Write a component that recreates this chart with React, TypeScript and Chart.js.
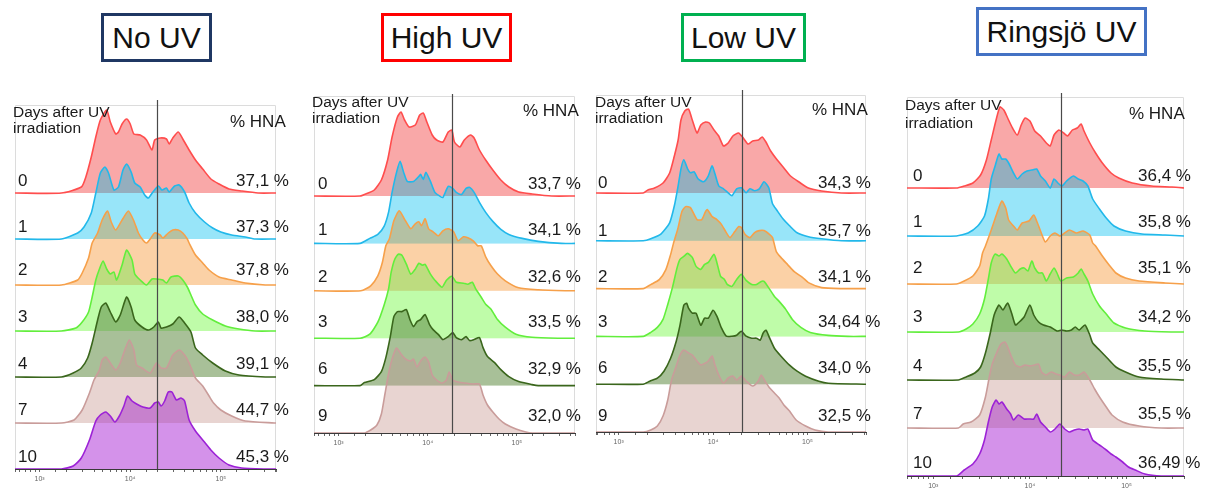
import React, { useEffect, useRef } from 'react';
import { Chart, registerables } from 'chart.js';

// Per-dataset compositing; registered ahead of the filler so the mode is set before fills are painted.
const blendPlugin = {
  id: 'datasetBlend',
  beforeDatasetDraw(chart: any, args: any) {
    const ds = chart.data.datasets[args.index];
    chart.ctx.save();
    chart.ctx.globalCompositeOperation = ds.blend || 'source-over';
  },
  afterDatasetDraw(chart: any) {
    chart.ctx.restore();
  },
};
Chart.register(blendPlugin);
Chart.register(...registerables);

// Each histogram is a list of [log10 fluorescence, relative event count].
type Curve = [number, number][];

// ---------- No UV ----------
const NOUV_D0: Curve = [[3.24,0],[3.46,6],[3.51,16],[3.57,36],[3.62,56],[3.67,73],[3.74,83],[3.78,71],[3.84,59],[3.87,61],[3.91,69],[3.96,74],[4.00,69],[4.04,59],[4.11,58],[4.18,53],[4.24,43],[4.27,53],[4.33,55],[4.40,54],[4.43,49],[4.47,55],[4.53,61],[4.58,54],[4.65,43],[4.72,33],[4.80,24],[4.89,14],[4.98,9],[5.09,4],[5.23,2],[5.41,0]];
const NOUV_D1: Curve = [[3.24,0],[3.42,6],[3.49,12],[3.57,26],[3.62,46],[3.67,66],[3.72,72],[3.76,66],[3.82,49],[3.87,52],[3.92,69],[3.96,75],[4.01,67],[4.05,56],[4.11,52],[4.16,44],[4.20,41],[4.25,47],[4.31,53],[4.35,49],[4.40,51],[4.43,47],[4.49,53],[4.54,54],[4.60,47],[4.65,36],[4.72,26],[4.82,17],[4.91,11],[5.00,7],[5.12,4],[5.27,2],[5.38,0]];
const NOUV_D2: Curve = [[3.24,0],[3.42,5],[3.47,12],[3.54,27],[3.58,42],[3.64,52],[3.69,65],[3.75,74],[3.79,63],[3.84,55],[3.91,65],[3.98,74],[4.04,64],[4.09,52],[4.14,45],[4.18,42],[4.22,46],[4.27,52],[4.33,50],[4.36,47],[4.42,52],[4.47,55],[4.53,55],[4.58,52],[4.63,46],[4.65,42],[4.72,30],[4.80,22],[4.87,15],[4.98,8],[5.12,5],[5.27,2],[5.49,0]];
const NOUV_D3: Curve = [[3.24,0],[3.40,3],[3.47,9],[3.54,19],[3.58,34],[3.62,51],[3.66,62],[3.70,70],[3.74,62],[3.78,57],[3.82,59],[3.85,51],[3.91,66],[3.96,81],[4.02,71],[4.05,57],[4.11,51],[4.18,46],[4.24,52],[4.29,52],[4.36,51],[4.40,48],[4.45,54],[4.53,55],[4.58,51],[4.63,44],[4.67,36],[4.72,26],[4.80,17],[4.91,11],[5.05,5],[5.20,2],[5.38,0]];
const NOUV_D4: Curve = [[3.24,0],[3.37,4],[3.46,9],[3.53,19],[3.58,34],[3.64,57],[3.68,70],[3.73,74],[3.78,65],[3.84,55],[3.89,62],[3.96,80],[4.01,70],[4.05,57],[4.13,50],[4.20,47],[4.26,50],[4.31,55],[4.34,49],[4.40,50],[4.47,53],[4.54,60],[4.60,54],[4.67,45],[4.72,29],[4.80,22],[4.91,14],[5.05,6],[5.20,2],[5.49,0]];
const NOUV_D7: Curve = [[3.24,0],[3.38,3],[3.47,13],[3.55,30],[3.60,43],[3.66,53],[3.69,63],[3.73,66],[3.78,60],[3.84,53],[3.89,60],[3.94,73],[3.99,83],[4.04,73],[4.07,58],[4.13,55],[4.22,50],[4.29,60],[4.34,55],[4.40,55],[4.47,68],[4.54,73],[4.60,68],[4.65,60],[4.72,45],[4.80,37],[4.87,27],[4.92,20],[5.00,13],[5.12,7],[5.27,2],[5.59,0]];
const NOUV_D10: Curve = [[3.24,0],[3.37,3],[3.46,11],[3.55,29],[3.62,48],[3.67,54],[3.73,57],[3.78,53],[3.83,47],[3.88,53],[3.93,63],[3.97,73],[4.02,68],[4.07,65],[4.14,62],[4.22,61],[4.27,66],[4.31,67],[4.34,63],[4.38,68],[4.42,77],[4.46,77],[4.51,69],[4.56,71],[4.60,68],[4.65,49],[4.72,38],[4.80,29],[4.89,19],[4.98,11],[5.09,4],[5.23,1],[5.49,0]];

// ---------- High UV ----------
const HIGH_D0: Curve = [[3.24,0],[3.33,3],[3.40,6],[3.48,16],[3.55,36],[3.60,59],[3.66,79],[3.70,84],[3.74,76],[3.79,69],[3.86,71],[3.91,81],[3.95,83],[3.99,74],[4.05,61],[4.10,56],[4.17,54],[4.23,64],[4.27,66],[4.30,54],[4.36,49],[4.41,56],[4.48,61],[4.52,58],[4.58,46],[4.65,36],[4.73,26],[4.82,16],[4.91,9],[5.02,4],[5.17,2],[5.39,0]];
const HIGH_D1: Curve = [[3.24,0],[3.35,5],[3.44,9],[3.51,17],[3.56,31],[3.60,51],[3.65,71],[3.69,82],[3.73,71],[3.77,62],[3.84,62],[3.90,67],[3.92,69],[3.95,64],[3.98,71],[4.03,62],[4.08,51],[4.14,47],[4.17,46],[4.23,57],[4.28,55],[4.32,51],[4.38,49],[4.43,55],[4.47,56],[4.52,51],[4.58,41],[4.65,31],[4.73,22],[4.82,14],[4.91,9],[5.06,5],[5.24,2],[5.50,0]];
const HIGH_D2: Curve = [[3.25,0],[3.36,5],[3.44,15],[3.49,28],[3.53,45],[3.57,52],[3.62,70],[3.68,80],[3.75,70],[3.81,62],[3.86,67],[3.90,69],[3.93,65],[3.97,72],[4.01,62],[4.06,59],[4.12,55],[4.17,60],[4.23,62],[4.29,59],[4.34,50],[4.40,54],[4.45,53],[4.51,50],[4.56,45],[4.60,45],[4.65,34],[4.71,25],[4.78,17],[4.87,10],[5.02,3],[5.24,1],[5.54,0]];
const HIGH_D3: Curve = [[3.24,0],[3.35,4],[3.44,16],[3.51,33],[3.56,49],[3.59,66],[3.63,79],[3.67,84],[3.71,83],[3.76,74],[3.81,64],[3.86,69],[3.90,75],[3.94,73],[3.97,74],[4.03,64],[4.08,58],[4.16,51],[4.21,58],[4.27,62],[4.32,56],[4.40,55],[4.45,54],[4.50,56],[4.54,49],[4.60,41],[4.65,34],[4.71,29],[4.78,19],[4.87,11],[4.99,4],[5.17,1],[5.46,0]];
const HIGH_D6: Curve = [[3.24,0],[3.29,3],[3.40,6],[3.48,14],[3.53,28],[3.58,49],[3.62,69],[3.66,74],[3.71,74],[3.76,76],[3.80,66],[3.84,59],[3.88,64],[3.92,66],[3.97,71],[4.02,61],[4.06,56],[4.12,51],[4.17,46],[4.23,49],[4.28,53],[4.32,48],[4.38,46],[4.43,49],[4.47,45],[4.52,46],[4.58,48],[4.62,38],[4.67,29],[4.75,23],[4.82,16],[4.91,9],[5.02,4],[5.17,1],[5.24,0]];
const HIGH_D9: Curve = [[3.29,0],[3.36,3],[3.43,8],[3.48,19],[3.52,39],[3.56,59],[3.60,74],[3.65,85],[3.70,79],[3.75,74],[3.81,72],[3.84,74],[3.88,66],[3.92,72],[3.97,76],[4.01,71],[4.05,58],[4.10,53],[4.16,50],[4.21,53],[4.24,61],[4.28,53],[4.34,51],[4.41,50],[4.51,49],[4.58,49],[4.62,38],[4.67,28],[4.73,21],[4.80,14],[4.87,9],[4.99,4],[5.10,1],[5.17,0]];

// ---------- Low UV ----------
const LOW_D0: Curve = [[3.26,0],[3.31,3],[3.38,5],[3.47,10],[3.54,20],[3.59,37],[3.63,53],[3.66,73],[3.70,82],[3.74,84],[3.78,73],[3.83,60],[3.87,68],[3.92,71],[3.96,70],[4.01,63],[4.06,57],[4.11,47],[4.16,50],[4.21,57],[4.27,60],[4.32,55],[4.37,49],[4.42,52],[4.48,53],[4.52,56],[4.56,51],[4.61,42],[4.68,33],[4.75,25],[4.82,17],[4.91,11],[5.01,5],[5.15,2],[5.36,0]];
const LOW_D1: Curve = [[3.26,0],[3.34,2],[3.45,7],[3.54,18],[3.59,35],[3.63,55],[3.66,72],[3.69,81],[3.73,72],[3.76,68],[3.80,69],[3.84,62],[3.90,59],[3.95,65],[3.99,75],[4.02,67],[4.06,55],[4.11,52],[4.16,48],[4.20,45],[4.25,52],[4.30,53],[4.35,48],[4.39,52],[4.44,50],[4.49,52],[4.54,59],[4.59,53],[4.63,37],[4.68,30],[4.74,22],[4.81,15],[4.89,8],[5.01,4],[5.15,2],[5.36,0]];
const LOW_D2: Curve = [[3.26,0],[3.34,4],[3.43,9],[3.50,19],[3.55,34],[3.58,45],[3.63,61],[3.67,77],[3.71,82],[3.76,81],[3.83,69],[3.88,69],[3.92,77],[3.94,79],[3.99,72],[4.04,69],[4.09,64],[4.14,56],[4.18,51],[4.23,57],[4.27,62],[4.30,61],[4.34,54],[4.39,51],[4.44,56],[4.49,58],[4.54,58],[4.60,54],[4.63,51],[4.67,37],[4.72,31],[4.79,24],[4.86,17],[4.95,11],[5.01,6],[5.15,1],[5.36,0]];
const LOW_D3: Curve = [[3.26,0],[3.34,4],[3.41,9],[3.47,17],[3.52,32],[3.57,49],[3.62,69],[3.65,77],[3.69,80],[3.73,83],[3.78,79],[3.82,70],[3.87,67],[3.91,72],[3.95,74],[4.01,82],[4.04,74],[4.08,60],[4.12,57],[4.15,52],[4.20,50],[4.25,57],[4.30,62],[4.35,56],[4.41,52],[4.46,52],[4.51,55],[4.54,55],[4.60,47],[4.65,40],[4.70,35],[4.77,27],[4.84,17],[4.93,9],[5.03,4],[5.22,1],[5.43,0]];
const LOW_D6: Curve = [[3.26,0],[3.33,3],[3.41,6],[3.48,13],[3.55,26],[3.61,43],[3.65,59],[3.69,79],[3.72,81],[3.74,76],[3.78,71],[3.82,71],[3.87,59],[3.91,66],[3.95,66],[4.00,74],[4.04,68],[4.09,56],[4.14,48],[4.20,48],[4.25,49],[4.30,53],[4.35,48],[4.41,46],[4.46,46],[4.50,44],[4.53,51],[4.56,54],[4.60,46],[4.65,36],[4.72,28],[4.81,19],[4.89,13],[4.98,8],[5.12,3],[5.22,1],[5.61,0]];
const LOW_D9: Curve = [[3.26,0],[3.34,2],[3.41,6],[3.47,16],[3.52,32],[3.56,52],[3.61,66],[3.65,77],[3.69,82],[3.74,79],[3.78,77],[3.82,72],[3.87,67],[3.92,69],[3.95,71],[3.99,76],[4.02,67],[4.06,57],[4.11,49],[4.16,54],[4.21,56],[4.25,52],[4.30,56],[4.35,51],[4.42,46],[4.48,51],[4.51,57],[4.55,51],[4.60,44],[4.65,39],[4.70,34],[4.75,27],[4.81,21],[4.88,12],[4.98,6],[5.08,2],[5.22,0]];

// ---------- Ringsjö UV ----------
const RING_D0: Curve = [[3.24,0],[3.32,2],[3.41,5],[3.49,13],[3.55,28],[3.60,48],[3.65,68],[3.69,81],[3.73,78],[3.77,70],[3.82,60],[3.87,53],[3.91,63],[3.95,70],[4.00,67],[4.05,57],[4.11,52],[4.17,45],[4.21,42],[4.25,53],[4.30,58],[4.35,55],[4.39,52],[4.44,58],[4.49,60],[4.53,64],[4.56,57],[4.62,45],[4.68,35],[4.75,25],[4.84,15],[4.92,10],[5.06,5],[5.26,2],[5.47,1],[5.60,0]];
const RING_D1: Curve = [[3.24,0],[3.36,3],[3.46,10],[3.53,20],[3.57,37],[3.60,57],[3.64,70],[3.68,82],[3.71,77],[3.75,77],[3.78,73],[3.83,63],[3.87,57],[3.92,62],[3.97,65],[4.02,66],[4.07,67],[4.11,60],[4.16,55],[4.21,48],[4.25,57],[4.29,53],[4.33,50],[4.38,55],[4.45,60],[4.50,57],[4.55,55],[4.60,50],[4.65,37],[4.72,27],[4.79,18],[4.87,10],[4.99,5],[5.16,2],[5.40,1],[5.60,0]];
const RING_D2: Curve = [[3.24,0],[3.32,3],[3.41,8],[3.48,18],[3.51,31],[3.54,38],[3.60,54],[3.66,71],[3.71,83],[3.75,76],[3.78,64],[3.83,58],[3.87,54],[3.92,61],[3.99,63],[4.04,69],[4.07,63],[4.11,53],[4.16,42],[4.21,48],[4.26,51],[4.31,48],[4.36,51],[4.41,54],[4.48,51],[4.55,53],[4.62,49],[4.65,41],[4.68,38],[4.75,28],[4.82,19],[4.89,11],[4.99,6],[5.13,3],[5.40,1],[5.60,0]];
const RING_D3: Curve = [[3.26,0],[3.34,3],[3.41,8],[3.48,18],[3.53,33],[3.57,53],[3.60,69],[3.64,78],[3.68,76],[3.71,78],[3.76,73],[3.80,66],[3.85,59],[3.90,63],[3.94,64],[3.98,61],[4.02,71],[4.05,64],[4.09,59],[4.13,59],[4.17,51],[4.21,58],[4.25,64],[4.28,59],[4.32,51],[4.38,54],[4.45,55],[4.50,59],[4.53,63],[4.56,58],[4.60,51],[4.65,38],[4.72,26],[4.79,18],[4.87,9],[4.99,4],[5.19,1],[5.47,0]];
const RING_D4: Curve = [[3.26,0],[3.34,3],[3.43,7],[3.49,13],[3.54,27],[3.59,47],[3.63,65],[3.68,75],[3.72,70],[3.77,77],[3.81,67],[3.85,55],[3.89,58],[3.94,63],[4.00,75],[4.04,65],[4.09,58],[4.14,55],[4.21,53],[4.28,49],[4.33,50],[4.38,49],[4.43,50],[4.47,53],[4.51,50],[4.57,55],[4.62,45],[4.65,37],[4.72,30],[4.80,22],[4.89,13],[4.99,8],[5.13,3],[5.36,1],[5.60,0]];
const RING_D7: Curve = [[3.26,0],[3.31,4],[3.39,6],[3.48,13],[3.54,31],[3.58,51],[3.61,64],[3.66,76],[3.70,84],[3.74,86],[3.77,81],[3.81,71],[3.85,63],[3.90,61],[3.95,63],[4.00,62],[4.05,63],[4.09,64],[4.12,56],[4.17,53],[4.22,56],[4.27,54],[4.31,53],[4.36,51],[4.41,56],[4.46,53],[4.51,53],[4.56,56],[4.62,48],[4.67,39],[4.72,31],[4.79,21],[4.85,13],[4.96,6],[5.13,2],[5.36,0]];
const RING_D10: Curve = [[3.24,0],[3.32,6],[3.41,12],[3.48,22],[3.53,36],[3.57,54],[3.61,69],[3.65,76],[3.68,72],[3.71,74],[3.76,67],[3.80,62],[3.83,56],[3.88,61],[3.94,57],[3.99,57],[4.04,57],[4.07,62],[4.11,54],[4.16,49],[4.21,44],[4.26,47],[4.31,52],[4.36,47],[4.41,44],[4.46,46],[4.51,47],[4.56,46],[4.60,47],[4.65,36],[4.72,31],[4.79,26],[4.84,22],[4.89,19],[4.96,14],[5.02,9],[5.09,6],[5.19,2],[5.36,0]];

// Row labels (days after irradiation) and HNA percentages
const NOUV_DAYS = ['0', '1', '2', '3', '4', '7', '10'];
const NOUV_HNA = ['37,1 %', '37,3 %', '37,8 %', '38,0 %', '39,1 %', '44,7 %', '45,3 %'];
const HIGH_DAYS = ['0', '1', '2', '3', '6', '9'];
const HIGH_HNA = ['33,7 %', '34,1 %', '32,6 %', '33,5 %', '32,9 %', '32,0 %'];
const LOW_DAYS = ['0', '1', '2', '3', '6', '9'];
const LOW_HNA = ['34,3 %', '35,7 %', '34,1 %', '34,64 %', '34,0 %', '32,5 %'];
const RING_DAYS = ['0', '1', '2', '3', '4', '7', '10'];
const RING_HNA = ['36,4 %', '35,8 %', '35,1 %', '34,2 %', '35,5 %', '35,5 %', '36,49 %'];

// HNA gate position (fluorescence units)
const GATES = [19500, 18700, 20200, 20800];

// line colour and fill colour (RGB) for each day style
const PALETTE: { line: string; fill: [number, number, number] }[] = [
  { line: '#ff4d4d', fill: [249, 168, 168] },
  { line: '#22b8ea', fill: [152, 229, 250] },
  { line: '#f6a04a', fill: [251, 209, 167] },
  { line: '#62ee3c', fill: [191, 252, 169] },
  { line: '#3a661c', fill: [168, 193, 152] },
  { line: '#c99c9a', fill: [232, 212, 210] },
  { line: '#9c22d6', fill: [213, 147, 234] },
];
// share of the top fill that is laid on plainly over the multiplied overlap
const PLAIN_SHARE = 0.3;

const FONT = '"Liberation Sans", Arial, Helvetica, sans-serif';
const TOP_PAD = 10;
const AXIS_H = 20;
const SUP: Record<number, string> = { 2: '²', 3: '³', 4: '⁴', 5: '⁵', 6: '⁶' };

interface Panel {
  title: string;
  titleColor: string;
  box: { left: number; top: number; width: number; height: number };
  curves: Curve[];
  colors: number[];
  days: string[];
  hna: string[];
  gate: number;
  frame: { left: number; right: number; top: number; axis: number };
  logMin: number;
  logMax: number;
  overhang: number;
  rowStep: number;
  labelY: number[];
  dayX: number;
  pctX: number;
  headX: number;
  headY: [number, number];
  hnaX: number;
  hnaY: number;
}

const PANELS: Panel[] = [
  {
    title: 'No UV', titleColor: '#1f3763',
    box: { left: 101, top: 13, width: 111, height: 49 },
    curves: [NOUV_D0, NOUV_D1, NOUV_D2, NOUV_D3, NOUV_D4, NOUV_D7, NOUV_D10],
    colors: [0, 1, 2, 3, 4, 5, 6], days: NOUV_DAYS, hna: NOUV_HNA, gate: GATES[0],
    frame: { left: 13, right: 278, top: 105, axis: 469 }, logMin: 2.728, logMax: 5.609,
    overhang: 5, rowStep: 46,
    labelY: [180, 226.7, 269.3, 316, 363.3, 409.3, 456], dayX: 18, pctX: 236,
    headX: 13, headY: [112, 128], hnaX: 230, hnaY: 121,
  },
  {
    title: 'High UV', titleColor: '#ff0000',
    box: { left: 381, top: 13, width: 131, height: 49 },
    curves: [HIGH_D0, HIGH_D1, HIGH_D2, HIGH_D3, HIGH_D6, HIGH_D9],
    colors: [0, 1, 2, 3, 4, 5], days: HIGH_DAYS, hna: HIGH_HNA, gate: GATES[1],
    frame: { left: 312, right: 577, top: 96, axis: 433 }, logMin: 2.724, logMax: 5.652,
    overhang: 2, rowStep: 47.4,
    labelY: [183, 229.3, 276.7, 321.7, 368, 415], dayX: 318, pctX: 528,
    headX: 312, headY: [102, 118], hnaX: 523, hnaY: 110,
  },
  {
    title: 'Low UV', titleColor: '#00b050',
    box: { left: 681, top: 13, width: 125, height: 49 },
    curves: [LOW_D0, LOW_D1, LOW_D2, LOW_D3, LOW_D6, LOW_D9],
    colors: [0, 1, 2, 3, 4, 5], days: LOW_DAYS, hna: LOW_HNA, gate: GATES[2],
    frame: { left: 594, right: 868, top: 95, axis: 432 }, logMin: 2.76, logMax: 5.62,
    overhang: 5, rowStep: 47.8,
    labelY: [182.7, 230.5, 276.7, 321.7, 367.7, 415], dayX: 598, pctX: 818,
    headX: 595, headY: [102, 118], hnaX: 812, hnaY: 109,
  },
  {
    title: 'Ringsjö UV', titleColor: '#4472c4',
    box: { left: 976, top: 7, width: 171, height: 49 },
    curves: [RING_D0, RING_D1, RING_D2, RING_D3, RING_D4, RING_D7, RING_D10],
    colors: [0, 1, 2, 3, 4, 5, 6], days: RING_DAYS, hna: RING_HNA, gate: GATES[3],
    frame: { left: 905, right: 1186, top: 97, axis: 476 }, logMin: 2.728, logMax: 5.595,
    overhang: 4, rowStep: 48,
    labelY: [175, 221.7, 267.3, 316.7, 365, 413.3, 462.7], dayX: 913, pctX: 1138,
    headX: 905, headY: [105, 123], hnaX: 1129, hnaY: 113,
  },
];

function decorPlugin(panel: Panel) {
  return {
    id: 'panelDecor',
    beforeDatasetsDraw(chart: any) {
      const { ctx, chartArea: a } = chart;
      ctx.save();
      ctx.strokeStyle = '#dcdcdc';
      ctx.lineWidth = 1;
      ctx.beginPath();
      ctx.moveTo(a.left + 0.5, a.bottom);
      ctx.lineTo(a.left + 0.5, a.top + 0.5);
      ctx.lineTo(a.right - 0.5, a.top + 0.5);
      ctx.lineTo(a.right - 0.5, a.bottom);
      ctx.stroke();
      ctx.restore();
    },
    afterDatasetsDraw(chart: any) {
      const { ctx, chartArea: a } = chart;
      const x = Math.round(chart.scales.x.getPixelForValue(panel.gate)) + 0.5;
      ctx.save();
      ctx.strokeStyle = '#4a4a4a';
      ctx.lineWidth = 1.2;
      ctx.beginPath();
      ctx.moveTo(x, a.top - panel.overhang);
      ctx.lineTo(x, a.bottom);
      ctx.stroke();
      ctx.restore();
    },
  };
}

function HistogramPanel({ panel }: { panel: Panel }) {
  const ref = useRef<HTMLCanvasElement>(null);
  const f = panel.frame;
  const width = f.right - f.left + 2;
  const height = TOP_PAD + (f.axis - f.top) + AXIS_H;

  useEffect(() => {
    if (!ref.current) return;
    const n = panel.curves.length;
    const xMin = Math.pow(10, panel.logMin);
    const xMax = Math.pow(10, panel.logMax);
    const total = n * 2;
    const datasets: any[] = [];
    panel.curves.forEach((curve, i) => {
      const base = (n - 1 - i) * panel.rowStep;
      const st = PALETTE[panel.colors[i]];
      const [r, g, b] = st.fill;
      const pts = [
        { x: xMin, y: base },
        ...curve.map(([lg, c]) => ({ x: Math.pow(10, lg), y: base + c })),
        { x: xMax, y: base },
      ];
      // multiplied fill (darkens the rows it overlaps)
      datasets.push({
        label: panel.days[i],
        data: pts,
        blend: 'multiply',
        borderWidth: 0,
        borderColor: 'rgba(0,0,0,0)',
        backgroundColor: `rgb(${r},${g},${b})`,
        pointRadius: 0,
        tension: 0.2,
        fill: { value: base },
        order: total - 1 - 2 * i,
      });
      // plain veil of the same colour plus the outline
      datasets.push({
        label: panel.days[i],
        data: pts,
        blend: 'source-over',
        borderWidth: 1.6,
        borderColor: st.line,
        backgroundColor: `rgba(${r},${g},${b},${PLAIN_SHARE})`,
        pointRadius: 0,
        tension: 0.2,
        fill: { value: base },
        order: total - 2 - 2 * i,
      });
    });

    const chart = new Chart(ref.current, {
      type: 'line',
      data: { datasets },
      options: {
        animation: false,
        responsive: false,
        events: [],
        layout: { padding: { left: 1, right: 1, top: TOP_PAD, bottom: 0 } },
        plugins: { legend: { display: false }, tooltip: { enabled: false } },
        scales: {
          x: {
            type: 'logarithmic',
            min: xMin,
            max: xMax,
            afterFit: (s: any) => { s.height = AXIS_H; },
            grid: { drawOnChartArea: false, drawTicks: true, tickLength: 3, color: '#666', lineWidth: 1 },
            border: { display: true, color: '#3a3a3a', width: 1 },
            ticks: {
              autoSkip: false,
              maxRotation: 0,
              minRotation: 0,
              padding: 3,
              color: '#666',
              font: { size: 7, family: FONT },
              callback: (v: any) => {
                const lg = Math.log10(Number(v));
                const rr = Math.round(lg);
                return Math.abs(lg - rr) < 1e-6 ? '10' + (SUP[rr] || '') : '';
              },
            },
          },
          y: { type: 'linear', display: false, min: 0, max: f.axis - f.top },
        },
      } as any,
      plugins: [decorPlugin(panel)],
    });
    return () => chart.destroy();
  }, [panel]);

  return (
    <canvas
      ref={ref}
      width={width}
      height={height}
      style={{ position: 'absolute', left: f.left - 1, top: f.top - TOP_PAD, width, height }}
    />
  );
}

function Label({ x, y, size, children }: { x: number; y: number; size: number; children: React.ReactNode }) {
  return (
    <div
      style={{
        position: 'absolute', left: x, top: y - size / 2, fontSize: size, lineHeight: `${size}px`,
        whiteSpace: 'nowrap', color: '#1a1a1a', fontFamily: FONT,
      }}
    >
      {children}
    </div>
  );
}

export default function App() {
  return (
    <div style={{ position: 'fixed', left: 0, top: 0, width: 1210, height: 488, background: '#fff', overflow: 'hidden', fontFamily: FONT }}>
      {PANELS.map((p) => (
        <React.Fragment key={p.title}>
          <HistogramPanel panel={p} />
          <div
            style={{
              position: 'absolute', left: p.box.left, top: p.box.top, width: p.box.width, height: p.box.height,
              boxSizing: 'border-box', border: `3px solid ${p.titleColor}`, display: 'flex',
              alignItems: 'center', justifyContent: 'center', fontSize: 30, color: '#111', background: '#fff',
            }}
          >
            {p.title}
          </div>
          <Label x={p.headX} y={p.headY[0]} size={15.5}>Days after UV</Label>
          <Label x={p.headX} y={p.headY[1]} size={15.5}>irradiation</Label>
          <Label x={p.hnaX} y={p.hnaY} size={17}>% HNA</Label>
          {p.days.map((d, i) => (
            <Label key={'d' + i} x={p.dayX} y={p.labelY[i]} size={17}>{d}</Label>
          ))}
          {p.hna.map((h, i) => (
            <Label key={'h' + i} x={p.pctX} y={p.labelY[i]} size={17}>{h}</Label>
          ))}
        </React.Fragment>
      ))}
    </div>
  );
}
